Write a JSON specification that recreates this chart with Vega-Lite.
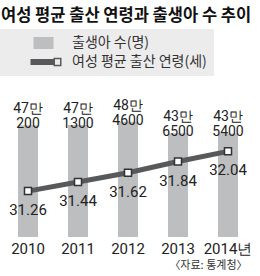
{
  "$schema": "https://vega.github.io/schema/vega-lite/v6.json",
  "width": 250,
  "height": 157,
  "autosize": {"type": "none"},
  "padding": {"left": 3, "top": 80, "right": 7, "bottom": 39},
  "background": "white",
  "config": {"view": {"stroke": null}},
  "title": {
    "text": "여성 평균 출산 연령과 출생아 수 추이",
    "anchor": "start",
    "frame": "group",
    "font": "Noto Sans CJK KR",
    "fontSize": 16.5,
    "fontWeight": "bold",
    "color": "#111111",
    "dx": -2,
    "offset": 5
  },
  "data": {
    "values": [
      {"year": 2010, "births": 470200, "bl": "47만\n200", "age": 31.26},
      {"year": 2011, "births": 471300, "bl": "47만\n1300", "age": 31.44},
      {"year": 2012, "births": 484600, "bl": "48만\n4600", "age": 31.62},
      {"year": 2013, "births": 436500, "bl": "43만\n6500", "age": 31.84},
      {"year": 2014, "births": 435400, "bl": "43만\n5400", "age": 32.04}
    ]
  },
  "encoding": {
    "x": {
      "field": "year",
      "type": "ordinal",
      "scale": {"paddingInner": 0.2, "paddingOuter": 0.1},
      "axis": {
        "title": "〈자료: 통계청〉",
        "labelAngle": 0,
        "domain": false,
        "ticks": false,
        "labelPadding": 4,
        "labelFont": "Liberation Sans Narrow, Roboto, sans-serif",
        "labelFontSize": 15,
        "labelColor": "#222222",
        "labelExpr": "datum.value === 2014 ? datum.label + '년' : datum.label",
        "encode": {"labels": {"update": {"dx": {"signal": "datum.value === 2014 ? 6 : 0"}}}},
        "titleFont": "Noto Sans CJK KR",
        "titleFontSize": 11,
        "titleFontWeight": "normal",
        "titleColor": "#333333",
        "titleAnchor": "end",
        "titleAlign": "right",
        "titleBaseline": "alphabetic",
        "titleX": 244,
        "titleY": 31
      }
    }
  },
  "layer": [
    {
      "mark": {"type": "bar", "size": 20},
      "encoding": {
        "y": {"field": "births", "type": "quantitative", "scale": {"domain": [0, 660000]}, "axis": null},
        "color": {
          "datum": "출생아 수(명)",
          "type": "nominal",
          "scale": {"domain": ["출생아 수(명)", "여성 평균 출산 연령(세)"], "range": ["#bdbec0", "#58595b"]},
          "legend": {
            "orient": "none",
            "legendX": -3,
            "legendY": -51,
            "direction": "vertical",
            "title": null,
            "fillColor": "#ececec",
            "padding": 7,
            "symbolSize": 100,
            "symbolOffset": 31,
            "labelOffset": 20,
            "rowPadding": 5,
            "labelFont": "Noto Sans CJK KR",
            "labelFontSize": 14,
            "labelColor": "#333333",
            "labelLimit": 400,
            "labelExpr": "datum.label + '\u3000\u3000\u3000\u3000'",
            "encode": {
              "symbols": {
                "update": {
                  "shape": {"signal": "datum.value === '출생아 수(명)' ? 'M-2.3,-1.2H1.7V1.2H-2.3Z' : 'M-2.9,-0.6H1.8V0.6H-2.9Z M1.7,-0.86H3.3V0.86H1.7Z M2.0,-0.56V0.56H3.0V-0.56Z'"},
                  "fill": {"signal": "datum.value === '출생아 수(명)' ? '#bdbec0' : '#4a4a4c'"},
                  "stroke": {"value": "transparent"},
                  "strokeWidth": {"value": 0},
                  "opacity": {"value": 1},
                  "fillOpacity": {"value": 1}
                }
              }
            }
          }
        }
      }
    },
    {
      "mark": {
        "type": "text",
        "baseline": "bottom",
        "dy": -9,
        "lineBreak": "\n",
        "lineHeight": 15,
        "font": "Liberation Sans Narrow, Roboto, sans-serif",
        "fontSize": 14,
        "color": "#222222"
      },
      "encoding": {
        "y": {"field": "births", "type": "quantitative", "scale": {"domain": [0, 660000]}, "axis": null},
        "text": {"field": "bl"}
      }
    },
    {
      "mark": {"type": "line", "strokeWidth": 5},
      "encoding": {
        "y": {"field": "age", "type": "quantitative", "scale": {"domain": [30.36, 33.44]}, "axis": null},
        "color": {"datum": "여성 평균 출산 연령(세)", "type": "nominal"}
      }
    },
    {
      "mark": {"type": "point", "shape": "square", "filled": true, "fill": "white", "stroke": "#333333", "strokeWidth": 1.5, "size": 49, "opacity": 1},
      "encoding": {
        "y": {"field": "age", "type": "quantitative", "scale": {"domain": [30.36, 33.44]}, "axis": null}
      }
    },
    {
      "mark": {
        "type": "text",
        "baseline": "alphabetic",
        "dy": 24,
        "font": "Liberation Sans Narrow, Roboto, sans-serif",
        "fontSize": 15,
        "color": "#222222"
      },
      "encoding": {
        "y": {"field": "age", "type": "quantitative", "scale": {"domain": [30.36, 33.44]}, "axis": null},
        "text": {"field": "age", "type": "quantitative", "format": ".2f"}
      }
    }
  ],
  "resolve": {"scale": {"y": "independent"}}
}
